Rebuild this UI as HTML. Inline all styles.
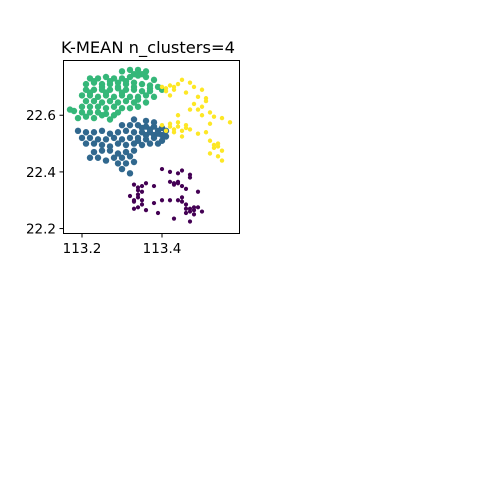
<!DOCTYPE html>
<html><head><meta charset="utf-8"><style>
html,body{margin:0;padding:0;background:#fff;width:500px;height:497px;overflow:hidden;}
svg text{font-family:"DejaVu Sans","Liberation Sans",sans-serif;}
</style></head><body>
<svg id="chart" width="500" height="497">
<text x="61" y="53" font-size="16.3">K-MEAN n_clusters=4</text>
<g id="marks"></g>
<rect x="63.5" y="60.5" width="176" height="173" fill="none" stroke="#000" stroke-width="1"/>
<g id="axes"></g>
</svg>
<script>
const xTicks=[113.2,113.4];
const yTicks=[22.2,22.4,22.6];
const clusterColors=["#440154","#31688e","#35b779","#fde725"];
const clusterNames=["cluster-0","cluster-1","cluster-2","cluster-3"];
const greenLon=[113.30,113.32,113.34,113.36,113.35,113.33,
113.22,113.24,113.26,113.28,113.30,113.32,113.34,113.36,113.38,
113.21,113.23,113.25,113.27,113.29,113.31,113.33,113.35,113.37,113.39,
113.21,113.23,113.25,113.27,113.29,113.31,113.33,113.35,113.37,113.40,
113.20,113.22,113.24,113.26,113.28,113.30,113.32,113.34,113.36,113.38,
113.21,113.23,113.25,113.27,113.29,113.31,113.33,113.36,
113.20,113.22,113.24,113.26,113.28,113.30,113.32,113.34,
113.18,113.20,113.22,113.24,113.26,113.29,113.17,113.19,113.21,113.23,113.25,113.28,113.27,
113.23,113.27,113.31,113.25,113.29,113.33,113.37,113.22,113.26,113.30,113.34];
const greenLat=[22.755,22.76,22.76,22.755,22.745,22.745,
22.73,22.73,22.735,22.73,22.73,22.735,22.74,22.735,22.725,
22.71,22.715,22.71,22.71,22.715,22.71,22.715,22.71,22.705,22.70,
22.69,22.69,22.69,22.69,22.695,22.69,22.69,22.685,22.685,22.69,
22.67,22.67,22.665,22.67,22.665,22.67,22.665,22.665,22.67,22.665,
22.65,22.65,22.645,22.65,22.645,22.65,22.645,22.645,
22.63,22.63,22.63,22.625,22.63,22.625,22.625,22.63,
22.615,22.61,22.61,22.61,22.605,22.61,22.62,22.59,22.595,22.59,22.60,22.60,22.585,
22.72,22.72,22.72,22.70,22.70,22.70,22.695,22.68,22.68,22.68,22.655];
const blueLon=[113.33,113.36,113.38,113.30,113.32,113.34,113.36,113.38,113.40,113.41,
113.19,113.21,113.23,113.25,113.27,113.29,113.31,113.33,113.35,113.37,113.39,113.41,
113.20,113.22,113.24,113.26,113.28,113.30,113.32,113.34,113.36,113.38,113.40,
113.21,113.23,113.25,113.27,113.29,113.31,113.33,113.35,113.37,
113.23,113.25,113.27,113.29,113.31,113.33,113.28,113.30,113.32,113.29,113.31,113.33,113.30,113.32,113.22,113.24,113.26,
113.35,113.37,113.39,113.36,113.38,113.40,113.34,113.39];
const blueLat=[22.585,22.58,22.575,22.565,22.565,22.565,22.56,22.56,22.555,22.545,
22.545,22.54,22.54,22.545,22.535,22.54,22.545,22.54,22.54,22.54,22.535,22.525,
22.52,22.52,22.515,22.515,22.52,22.515,22.52,22.52,22.515,22.52,22.51,
22.50,22.50,22.495,22.49,22.50,22.495,22.50,22.495,22.50,
22.47,22.475,22.475,22.465,22.47,22.475,22.45,22.45,22.455,22.43,22.43,22.435,22.41,22.395,22.45,22.45,22.44,
22.555,22.55,22.545,22.53,22.53,22.53,22.51,22.50];
const yellowLon=[113.40,113.42,113.44,113.41,113.43,113.42,113.45,113.47,113.48,113.50,113.46,113.49,113.51,113.48,113.50,113.52,113.47,113.53,113.55,113.57,
113.40,113.42,113.44,113.46,113.41,113.43,113.45,113.47,113.49,113.51,113.52,113.54,113.53,113.55,113.52,113.54,113.55,113.50,113.52,113.44,113.45,
113.41,113.43,113.42,113.44,113.46,113.43,113.53,113.54,113.49,113.51];
const yellowLat=[22.70,22.705,22.71,22.685,22.69,22.67,22.725,22.715,22.70,22.69,22.68,22.665,22.65,22.64,22.63,22.61,22.62,22.595,22.59,22.575,
22.565,22.57,22.575,22.565,22.545,22.55,22.545,22.55,22.535,22.54,22.51,22.50,22.485,22.475,22.465,22.455,22.44,22.60,22.57,22.60,22.525,
22.695,22.70,22.56,22.56,22.555,22.54,22.495,22.49,22.62,22.66];
const purpleLon=[113.40,113.42,113.44,113.45,113.47,113.36,113.38,113.42,113.43,113.44,113.45,113.33,113.34,113.35,113.32,113.34,113.35,113.33,113.35,113.33,113.34,113.38,113.40,113.42,113.44,113.45,113.46,113.47,113.48,113.49,113.50,113.46,113.48,113.47,113.39,113.36,113.43,113.46,113.49,113.47,
113.43,113.44,113.34,113.33,113.47,113.48,113.46,113.35,113.34,113.45];
const purpleLat=[22.41,22.40,22.395,22.405,22.39,22.36,22.35,22.365,22.355,22.365,22.35,22.355,22.345,22.35,22.315,22.32,22.33,22.295,22.30,22.27,22.275,22.29,22.30,22.30,22.30,22.31,22.285,22.27,22.265,22.275,22.26,22.255,22.25,22.225,22.255,22.265,22.235,22.34,22.33,22.38,
22.36,22.36,22.31,22.30,22.26,22.275,22.27,22.285,22.335,22.295];
const x0=63,x1=240,y0=61,y1=234,xmin=113.1525,xmax=113.595,ymin=22.1808,ymax=22.7915;
function sx(v){return x0+(v-xmin)/(xmax-xmin)*(x1-x0);}
function sy(v){return y1-(v-ymin)/(ymax-ymin)*(y1-y0);}
const NS="http://www.w3.org/2000/svg";
const marks=document.getElementById('marks');
const series=[[purpleLon,purpleLat],[blueLon,blueLat],[greenLon,greenLat],[yellowLon,yellowLat]];
series.forEach((s,k)=>{
 const g=document.createElementNS(NS,'g');
 
 
 const r=(k===0)?2.1:(k===3?2.2:3.2);
 for(let i=0;i<s[0].length;i++){
  const c=document.createElementNS(NS,'circle');
  c.setAttribute('cx',sx(s[0][i]));c.setAttribute('cy',sy(s[1][i]));
  c.setAttribute('r',r);c.setAttribute('fill',clusterColors[k]);
  
  
  g.appendChild(c);
 }
 marks.appendChild(g);
});
const axes=document.getElementById('axes');
xTicks.forEach(t=>{
 const l=document.createElementNS(NS,'line');
 l.setAttribute('x1',sx(t));l.setAttribute('x2',sx(t));l.setAttribute('y1',234);l.setAttribute('y2',237.5);l.setAttribute('stroke','#000');
 
 
 axes.appendChild(l);
 const tx=document.createElementNS(NS,'text');
 tx.setAttribute('x',sx(t));tx.setAttribute('y',253);tx.setAttribute('font-size','13.5');tx.setAttribute('text-anchor','middle');
 tx.textContent=t.toFixed(1);
 
 
 axes.appendChild(tx);
});
yTicks.forEach(t=>{
 const l=document.createElementNS(NS,'line');
 l.setAttribute('x1',59.5);l.setAttribute('x2',63);l.setAttribute('y1',sy(t));l.setAttribute('y2',sy(t));l.setAttribute('stroke','#000');
 
 
 axes.appendChild(l);
 const tx=document.createElementNS(NS,'text');
 tx.setAttribute('x',56);tx.setAttribute('y',sy(t)+5);tx.setAttribute('font-size','13.5');tx.setAttribute('text-anchor','end');
 tx.textContent=t.toFixed(1);
 
 
 axes.appendChild(tx);
});
</script>
</body></html>
